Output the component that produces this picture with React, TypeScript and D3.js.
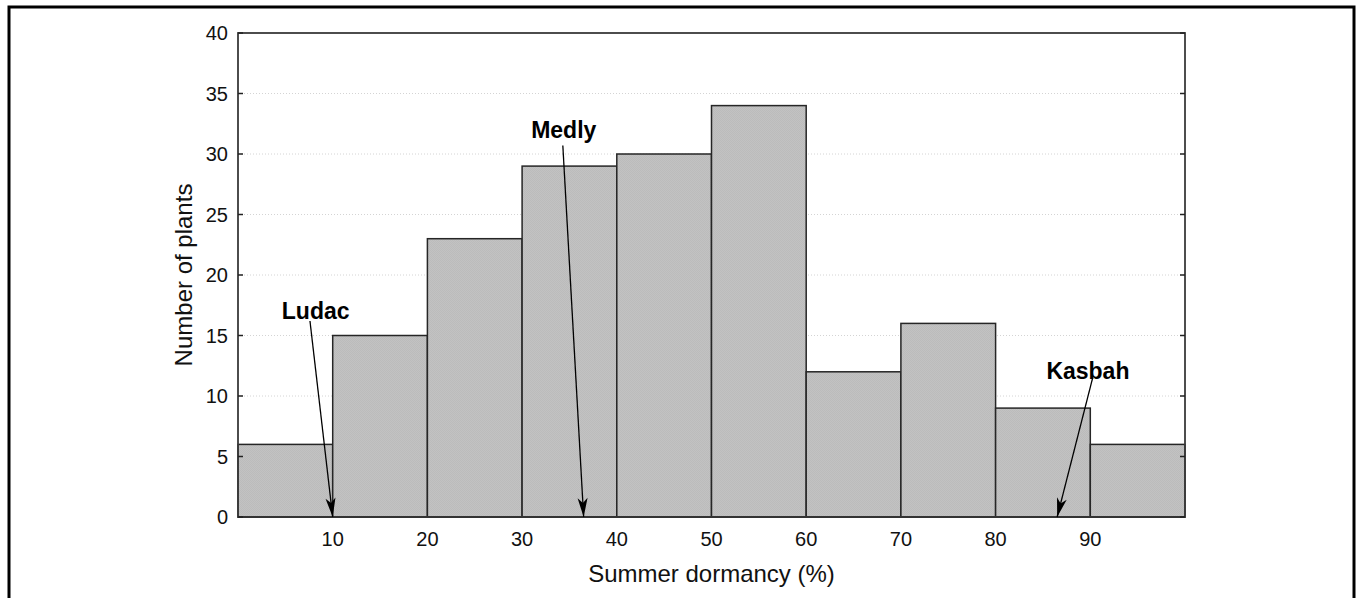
import React from "react";
import * as d3 from "d3";

const binStarts = [0, 10, 20, 30, 40, 50, 60, 70, 80, 90];
const binWidth = 10;
const counts = [6, 15, 23, 29, 30, 34, 12, 16, 9, 6];
const yTicks = [0, 5, 10, 15, 20, 25, 30, 35, 40];
const xTicks = [10, 20, 30, 40, 50, 60, 70, 80, 90];
const cultivars = ["Ludac", "Medly", "Kasbah"];
const cultivarDormancy = [10, 36.5, 86.5];
const labelAt = [
  [8.2, 16.4],
  [34.4, 31.3],
  [89.75, 11.4],
];
const arrowFrom = [
  [7.6, 16.2],
  [34.3, 30.7],
  [90.25, 11.5],
];

const W = 1360;
const H = 598;
const m = { left: 238, right: 1185, top: 33, bottom: 517 };
const FONT = "'Liberation Sans', Arial, Helvetica, sans-serif";

export default function App() {
  const x = d3.scaleLinear().domain([0, 100]).range([m.left, m.right]);
  const y = d3.scaleLinear().domain([0, 40]).range([m.bottom, m.top]);

  return (
    <svg
      width={W}
      height={H}
      style={{ position: "absolute", left: 0, top: 0, background: "#fff" }}
      fontFamily={FONT}
    >
      <defs>
        <pattern id="hatch" width="2" height="2" patternUnits="userSpaceOnUse">
          <rect width="2" height="2" fill="#c2c2c2" />
          <rect width="1" height="1" fill="#bbbbbb" />
          <rect x="1" y="1" width="1" height="1" fill="#bbbbbb" />
        </pattern>
        <marker
          id="arrow"
          markerUnits="userSpaceOnUse"
          markerWidth="24"
          markerHeight="14"
          viewBox="-20 -7 24 14"
          refX="0"
          refY="0"
          orient="auto"
        >
          <path d="M0,0 L-19,-5 L-14,0 L-19,5 Z" fill="#000" />
        </marker>
      </defs>

      {/* outer frame */}
      <rect x={9} y={7} width={1345} height={610} fill="none" stroke="#000" strokeWidth={3} />

      {/* gridlines */}
      {yTicks
        .filter((t) => t > 0 && t < 40)
        .map((t) => (
          <line
            key={"g" + t}
            x1={m.left}
            x2={m.right}
            y1={y(t)}
            y2={y(t)}
            stroke="#d4d4d4"
            strokeWidth={1}
            strokeDasharray="1,2"
          />
        ))}

      {/* bars */}
      {binStarts.map((b, i) => (
        <rect
          key={"b" + i}
          x={x(b)}
          y={y(counts[i])}
          width={x(b + binWidth) - x(b)}
          height={y(0) - y(counts[i])}
          fill="url(#hatch)"
          stroke="#262626"
          strokeWidth={1.5}
        />
      ))}

      {/* plot frame */}
      <rect
        x={m.left}
        y={m.top}
        width={m.right - m.left}
        height={m.bottom - m.top}
        fill="none"
        stroke="#3a3a3a"
        strokeWidth={1.8}
      />
      <line x1={m.left} x2={m.right} y1={m.bottom} y2={m.bottom} stroke="#333" strokeWidth={2.2} />

      {/* y ticks */}
      {yTicks.map((t) => (
        <g key={"yt" + t}>
          <line x1={m.left} x2={m.left + 5} y1={y(t)} y2={y(t)} stroke="#222" strokeWidth={1.5} />
          <line x1={m.right - 5} x2={m.right} y1={y(t)} y2={y(t)} stroke="#222" strokeWidth={1.5} />
          <text
            x={228}
            y={y(t)}
            textAnchor="end"
            dominantBaseline="central"
            fontSize={20}
            fill="#111"
          >
            {t}
          </text>
        </g>
      ))}

      {/* x tick labels */}
      {xTicks.map((t) => (
        <text key={"xt" + t} x={x(t)} y={546} textAnchor="middle" fontSize={20} fill="#111">
          {t}
        </text>
      ))}

      {/* axis titles */}
      <text x={(m.left + m.right) / 2} y={582} textAnchor="middle" fontSize={24} fill="#111">
        Summer dormancy (%)
      </text>
      <text
        transform={`translate(192,${(m.top + m.bottom) / 2}) rotate(-90)`}
        textAnchor="middle"
        fontSize={24}
        fill="#111"
      >
        Number of plants
      </text>

      {/* annotations */}
      {cultivars.map((c, i) => (
        <g key={c}>
          <line
            x1={x(arrowFrom[i][0])}
            y1={y(arrowFrom[i][1])}
            x2={x(cultivarDormancy[i])}
            y2={y(0)}
            stroke="#000"
            strokeWidth={1.3}
            markerEnd="url(#arrow)"
          />
          <text
            x={x(labelAt[i][0])}
            y={y(labelAt[i][1])}
            textAnchor="middle"
            fontSize={23}
            fontWeight="bold"
            fill="#000"
          >
            {c}
          </text>
        </g>
      ))}
    </svg>
  );
}
